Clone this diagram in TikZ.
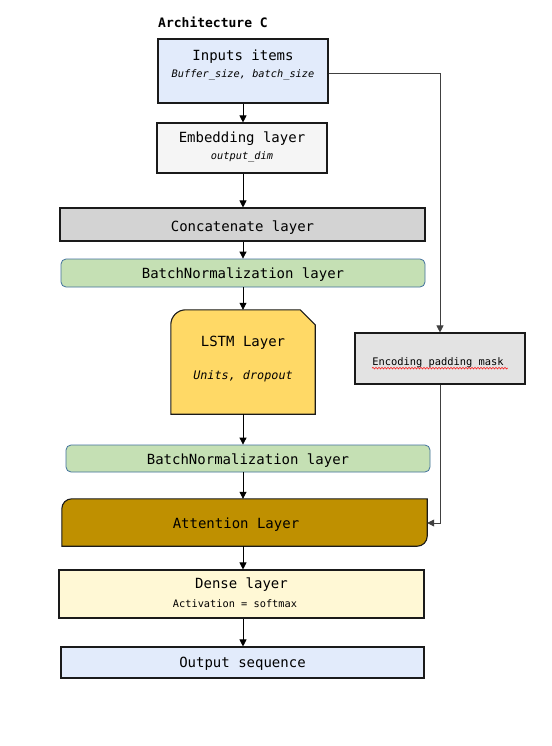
\documentclass[tikz,border=0pt]{standalone}
\usepackage{fontspec}
\setmonofont{DejaVu Sans Mono}
\usetikzlibrary{arrows.meta,decorations.pathmorphing}
\definecolor{inblue}{HTML}{E2EBFB}
\definecolor{embgray}{HTML}{F5F5F5}
\definecolor{catgray}{HTML}{D3D3D3}
\definecolor{bngreen}{HTML}{C5E0B4}
\definecolor{bnborder}{HTML}{41719C}
\definecolor{lstmyel}{HTML}{FFD966}
\definecolor{maskgray}{HTML}{E3E3E3}
\definecolor{attgold}{HTML}{BF9000}
\definecolor{denseyel}{HTML}{FFF8D5}
\definecolor{edgegray}{HTML}{1A1A1A}
\begin{document}
\begin{tikzpicture}[x=1pt,y=-1pt,
  font=\ttfamily\fontsize{14}{16}\selectfont,
  box/.style={draw=edgegray,line width=1.1pt,inner sep=0pt,minimum width=#1},
  box/.default=170pt,
  txt/.style={inner sep=0pt,anchor=center,yshift=-1.8pt},
  sub/.style={inner sep=0pt,yshift=-1.5pt,font=\ttfamily\itshape\fontsize{10.3}{12}\selectfont},
  bnbox/.style={draw=bnborder,line width=0.8pt,rounded corners=5pt,inner sep=0pt,fill=bngreen},
  arr/.style={-{Triangle[length=7pt,width=7pt]},line width=0.8pt,black},
  link/.style={-{Triangle[length=7pt,width=7pt]},line width=0.8pt,draw=black!75}]
\useasboundingbox (0,0) rectangle (551,746);
\fill[white] (0,0) rectangle (551,746);

\node[txt,anchor=west,font=\ttfamily\bfseries\fontsize{13}{15}\selectfont] (title) at (158,21) {Architecture C};

% Inputs
\node[box=170pt,minimum height=64pt,fill=inblue] (inp) at (243,71) {};
\node[txt] (inpT) at (243,55) {Inputs items};
\node[sub] (inpS) at (243,73) {Buffer\_size, batch\_size};

% Embedding
\node[box=170pt,minimum height=50pt,fill=embgray] (emb) at (242,148) {};
\node[txt] (embT) at (242,137) {Embedding layer};
\node[sub] (embS) at (242,155) {output\_dim};

% Concatenate
\node[box=365pt,minimum height=33pt,fill=catgray] (cat) at (242.5,224.5) {};
\node[txt] (catT) at (242.5,226) {Concatenate layer};

% BatchNorm 1
\node[bnbox,minimum width=364pt,minimum height=28pt] (bn1) at (243,273) {};
\node[txt] (bn1T) at (243,273) {BatchNormalization layer};

% LSTM
\node[inner sep=0pt,minimum width=144pt,minimum height=104pt] (lstm) at (243,362) {};
\draw[edgegray,line width=1.1pt,fill=lstmyel]
  (lstm.south west) -- (lstm.south east) -- ([yshift=-15pt]lstm.north east)
  -- ([xshift=-15pt]lstm.north east) -- ([xshift=15pt]lstm.north west)
  arc[start angle=90,end angle=180,radius=15pt] -- cycle;
\node[txt] (lstmT) at (243,341) {LSTM Layer};
\node[sub,font=\ttfamily\itshape\fontsize{11.8}{14}\selectfont] (lstmS) at (243,375) {Units, dropout};

% Mask
\node[box=170pt,minimum height=51pt,fill=maskgray] (mask) at (440,358.5) {};
\node[txt,font=\ttfamily\fontsize{10.4}{12}\selectfont,yshift=-0.5pt] (maskT) at (438,360) {Encoding padding mask};
\draw[red,line width=0.5pt,decorate,decoration={snake,amplitude=0.8pt,segment length=3pt}]
  ([yshift=-3pt]maskT.base west) -- ([yshift=-3pt,xshift=4pt]maskT.base east);

% BatchNorm 2
\node[bnbox,minimum width=364pt,minimum height=27pt] (bn2) at (248,458.5) {};
\node[txt] (bn2T) at (248,458.5) {BatchNormalization layer};

% Attention
\node[inner sep=0pt,minimum width=365pt,minimum height=47pt] (att) at (244.5,522.5) {};
\draw[edgegray,line width=1.1pt,fill=attgold]
  (att.south west) -- ([xshift=-10pt]att.south east)
  arc[start angle=-90,end angle=0,radius=10pt] -- (att.north east)
  -- ([xshift=10pt]att.north west) arc[start angle=90,end angle=180,radius=10pt] -- cycle;
\node[txt] (attT) at (236,523) {Attention Layer};

% Dense
\node[box=365pt,minimum height=48pt,fill=denseyel] (dense) at (241.5,594) {};
\node[txt] (denseT) at (241.5,583) {Dense layer};
\node[sub,font=\ttfamily\fontsize{10.3}{12}\selectfont] (denseS) at (235,602) {Activation = softmax};

% Output
\node[box=363pt,minimum height=31pt,fill=inblue] (out) at (242.5,662.5) {};
\node[txt] (outT) at (242.5,662) {Output sequence};

% arrows
\draw[arr] (inp.south -| 243,0) -- (emb.north -| 243,0);
\draw[arr] (emb.south -| 243,0) -- (cat.north -| 243,0);
\draw[arr] (cat.south -| 243,0) -- (bn1.north -| 243,0);
\draw[arr] (bn1.south -| 243,0) -- (lstm.north -| 243,0);
\draw[arr] (lstm.south -| 243,0) -- (bn2.north -| 243,0);
\draw[arr] (bn2.south -| 243,0) -- (att.north -| 243,0);
\draw[arr] (att.south -| 243,0) -- (dense.north -| 243,0);
\draw[arr] (dense.south -| 243,0) -- (out.north -| 243,0);

\draw[link] (inp.east |- 0,73) -| (mask.north);
\draw[link] (mask.south) |- (att.east |- 0,523);
\end{tikzpicture}
\end{document}
